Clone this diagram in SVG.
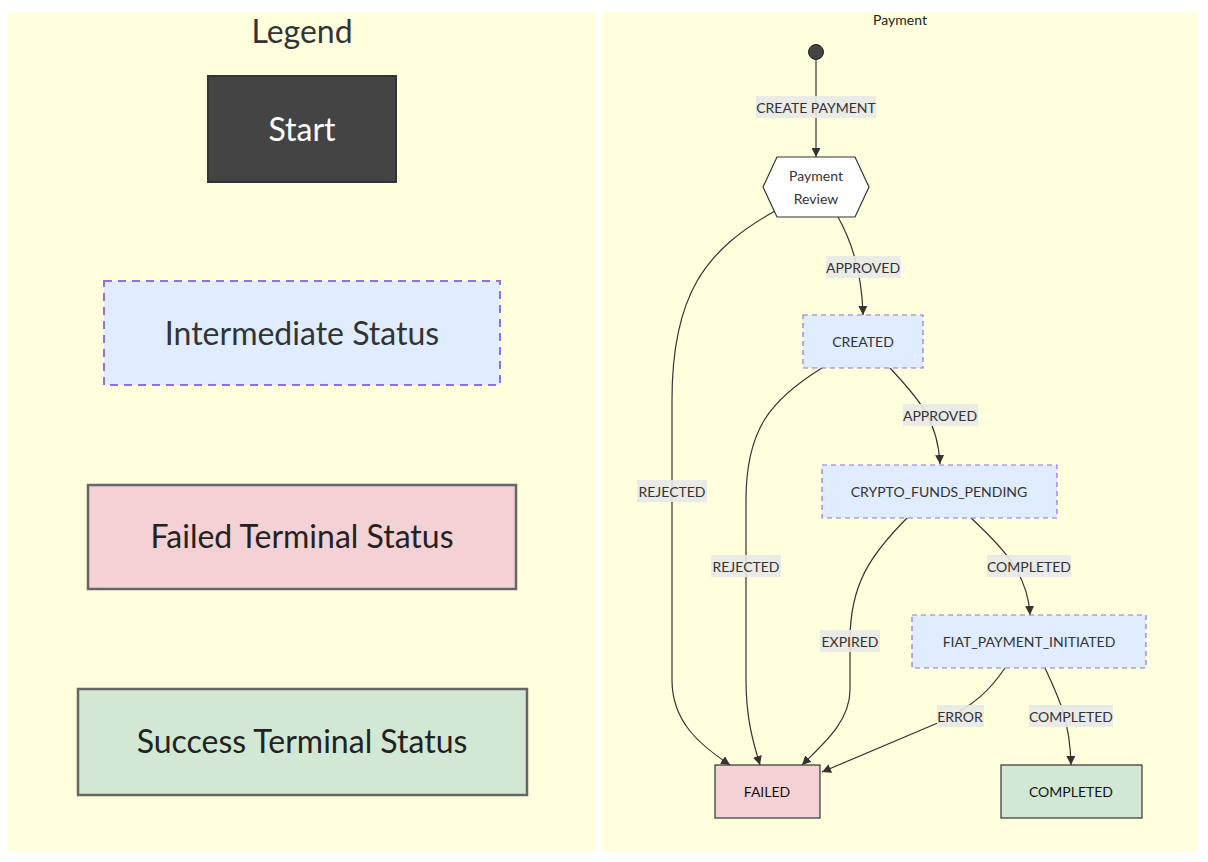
<svg xmlns="http://www.w3.org/2000/svg" width="1208" height="862" viewBox="0 0 1208 862">
<defs>
<style>
text{font-family:"Lato","Liberation Sans",sans-serif;fill:#333;text-anchor:middle;dominant-baseline:central}
.panel{fill:#ffffde;stroke:none}
.edge{fill:none;stroke:#333;stroke-width:1.2}
.lblbg{fill:#e8e8e8;opacity:0.9}
.lbl{font-size:14px}
.inter{fill:#e0ecff;stroke:#9370db;stroke-width:1.2;stroke-dasharray:5 4}
.fail{fill:#f4d1d4;stroke:#333;stroke-width:1.2}
.succ{fill:#d2e8d4;stroke:#333;stroke-width:1.2}
.ntxt{font-size:14px}
.leg{font-size:32px}
</style>
<marker id="arr" viewBox="0 0 10 10" refX="10" refY="5" markerWidth="9" markerHeight="9" markerUnits="userSpaceOnUse" orient="auto">
<path d="M0,0 L10,5 L0,10 z" fill="#333"/>
</marker>
</defs>
<rect width="1208" height="862" fill="#fff"/>
<g id="legend">
<rect class="panel" x="8" y="12" width="588" height="840"/>
<text x="302" y="30" class="leg">Legend</text>
<g id="leg-start">
<rect x="208" y="76" width="188" height="106" fill="#444" stroke="#333" stroke-width="2"/>
<text x="302" y="128" class="leg" style="fill:#fff">Start</text>
</g>
<g id="leg-inter">
<rect x="104" y="281" width="396" height="104" fill="#e0ecff" stroke="#9370db" stroke-width="2" stroke-dasharray="8 6"/>
<text x="302" y="332" class="leg">Intermediate Status</text>
</g>
<g id="leg-fail">
<rect x="88" y="485" width="428" height="104" fill="#f4d1d4" stroke="#666" stroke-width="2.5"/>
<text x="302" y="535" class="leg" style="fill:#222">Failed Terminal Status</text>
</g>
<g id="leg-succ">
<rect x="78" y="689" width="449" height="106" fill="#d2e8d4" stroke="#666" stroke-width="2.5"/>
<text x="302" y="740" class="leg" style="fill:#222">Success Terminal Status</text>
</g>
</g>
<g id="payment-panel">
<rect class="panel" x="602" y="12" width="595" height="840"/>
<text x="900" y="19" style="font-size:14px;fill:#222">Payment</text>
</g>
<g id="connectors">
<path class="edge" marker-end="url(#arr)" d="M816,60 L816,157"/>
<path class="edge" marker-end="url(#arr)" d="M838,217 C852,242 862,272 863,315"/>
<path class="edge" marker-end="url(#arr)" d="M775,211 C705,250 672,295 672,400 L672,680 C672,722 700,745 730,765"/>
<path class="edge" marker-end="url(#arr)" d="M890,368 C918,398 938,420 940,464"/>
<path class="edge" marker-end="url(#arr)" d="M822,368 C770,400 746,430 746,500 L746,680 C746,720 754,745 760,765"/>
<path class="edge" marker-end="url(#arr)" d="M970,517 C1000,545 1028,572 1030,615"/>
<path class="edge" marker-end="url(#arr)" d="M908,517 C870,555 850,585 850,640 L850,690 C850,722 822,745 802,765"/>
<path class="edge" marker-end="url(#arr)" d="M1005,668 C990,690 975,705 940,722 L822,772"/>
<path class="edge" marker-end="url(#arr)" d="M1045,668 C1060,700 1070,722 1071,765"/>
<g id="edge-labels">
<rect class="lblbg" x="756" y="96" width="120" height="22"/><text class="lbl" x="816" y="107">CREATE PAYMENT</text>
<rect class="lblbg" x="826" y="256" width="75" height="22"/><text class="lbl" x="863" y="267">APPROVED</text>
<rect class="lblbg" x="637" y="480" width="70" height="22"/><text class="lbl" x="672" y="491">REJECTED</text>
<rect class="lblbg" x="903" y="404" width="75" height="22"/><text class="lbl" x="940" y="415">APPROVED</text>
<rect class="lblbg" x="711" y="555" width="70" height="22"/><text class="lbl" x="746" y="566">REJECTED</text>
<rect class="lblbg" x="987" y="555" width="84" height="22"/><text class="lbl" x="1029" y="566">COMPLETED</text>
<rect class="lblbg" x="820" y="630" width="60" height="22"/><text class="lbl" x="850" y="641">EXPIRED</text>
<rect class="lblbg" x="937" y="705" width="47" height="22"/><text class="lbl" x="960" y="716">ERROR</text>
<rect class="lblbg" x="1029" y="705" width="84" height="22"/><text class="lbl" x="1071" y="716">COMPLETED</text>
</g>
</g>
<g id="start-dot"><circle cx="816" cy="52" r="7.5" fill="#444" stroke="#222" stroke-width="1"/></g>
<g id="payment-review">
<polygon points="777,157 855,157 869,187 855,217 777,217 763,187" fill="#fff" stroke="#333" stroke-width="1.2"/>
<text class="ntxt" x="816" y="175">Payment</text>
<text class="ntxt" x="816" y="198">Review</text>
</g>
<g id="created"><rect class="inter" x="803" y="315" width="120" height="53"/><text class="ntxt" x="863" y="341">CREATED</text></g>
<g id="crypto"><rect class="inter" x="822" y="465" width="235" height="53"/><text class="ntxt" x="939" y="491">CRYPTO_FUNDS_PENDING</text></g>
<g id="fiat"><rect class="inter" x="912" y="615" width="234" height="53"/><text class="ntxt" x="1029" y="641">FIAT_PAYMENT_INITIATED</text></g>
<g id="failed"><rect class="fail" x="715" y="765" width="105" height="53"/><text class="ntxt" x="767" y="791" style="fill:#111">FAILED</text></g>
<g id="completed"><rect class="succ" x="1001" y="765" width="141" height="53"/><text class="ntxt" x="1071" y="791" style="fill:#111">COMPLETED</text></g>
</svg>
